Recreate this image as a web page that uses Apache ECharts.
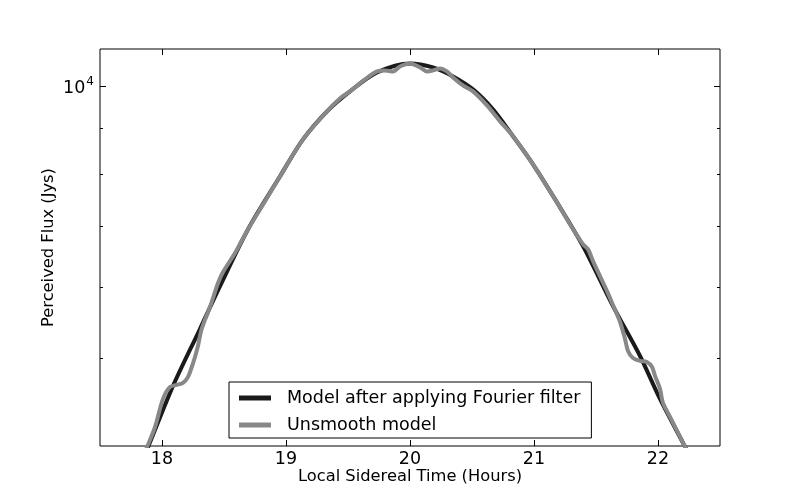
<!DOCTYPE html>
<html>
<head>
<meta charset="utf-8">
<script src="https://cdn.jsdelivr.net/npm/echarts@6/dist/echarts.min.js"></script>
<style>
  html, body { margin: 0; padding: 0; background: #fff; }
  #chart { width: 800px; height: 496px; }
</style>
</head>
<body>
<div id="chart"></div>
<script>
// ---- data ----
const smoothTimes = [17.847, 17.895, 18.089, 18.306, 18.468, 18.694, 18.952, 19.137, 19.331, 19.516, 19.734, 20.0, 20.185, 20.347, 20.508, 20.669, 20.831, 20.992, 21.185, 21.395, 21.637, 21.855, 22.016, 22.210, 22.258];
const smoothFlux  = [3871, 4012, 4662, 5389, 6012, 6950, 7954, 8737, 9385, 9874, 10363, 10603, 10496, 10257, 9924, 9432, 8807, 8200, 7443, 6657, 5713, 5031, 4510, 4012, 3891];

const rawTimes = [17.847, 17.887, 17.944, 18.008, 18.065, 18.119, 18.169, 18.210, 18.240, 18.266, 18.290, 18.320, 18.387, 18.452, 18.492, 18.589, 18.694, 18.831, 18.952, 19.137, 19.331, 19.435, 19.516, 19.637, 19.734, 19.798, 19.863, 19.919, 20.0, 20.081, 20.137, 20.185, 20.242, 20.298, 20.347, 20.427, 20.508, 20.621, 20.726, 20.831, 20.992, 21.185, 21.290, 21.395, 21.435, 21.476, 21.532, 21.589, 21.637, 21.694, 21.734, 21.758, 21.798, 21.855, 21.911, 21.952, 21.976, 22.016, 22.040, 22.097, 22.210, 22.258];
const rawFlux  = [3890, 4012, 4200, 4510, 4650, 4674, 4697, 4770, 4892, 5018, 5160, 5389, 5700, 6059, 6231, 6540, 6950, 7465, 7954, 8737, 9385, 9699, 9874, 10179, 10389, 10416, 10389, 10522, 10603, 10496, 10389, 10416, 10469, 10389, 10231, 10025, 9874, 9528, 9148, 8807, 8200, 7443, 7039, 6690, 6606, 6407, 6168, 5936, 5729, 5486, 5254, 5096, 5006, 4968, 4955, 4892, 4782, 4627, 4464, 4308, 4012, 3891];

const xTicks = [18, 19, 20, 21, 22];
const yMajorTicks = [10000];
const yMinorTicks = [5000, 6000, 7000, 8000, 9000];
const seriesNames = ['Model after applying Fourier filter', 'Unsmooth model'];
const xLabel = 'Local Sidereal Time (Hours)';
const yLabel = 'Perceived Flux (Jys)';

// ---- chart ----
const FONT = 'DejaVu Sans';
const chart = echarts.init(document.getElementById('chart'), null, { renderer: 'canvas' });

function pairs(xs, ys) { return xs.map((x, i) => [x, ys[i]]); }

function yAxisDef(pos, ticks, len, withLabel) {
  return {
    type: 'log', logBase: 10, min: 4000, max: 11000, position: pos,
    axisLine: { show: false },
    splitLine: { show: false },
    minorTick: { show: false },
    axisTick: { show: true, inside: true, length: len, customValues: ticks,
                lineStyle: { color: '#000', width: 1 } },
    axisLabel: withLabel ? {
      show: true, customValues: ticks, margin: 6,
      formatter: () => '{b|10}{s|4}',
      rich: {
        b: { fontFamily: FONT, fontSize: 17.5, color: '#000', padding: [4, 0, 0, 0] },
        s: { fontFamily: FONT, fontSize: 12, color: '#000', verticalAlign: 'bottom', padding: [0, 0, 10, 1] }
      }
    } : { show: false },
    name: withLabel ? yLabel : '',
    nameLocation: 'middle', nameRotate: 90, nameGap: 43, nameMoveOverlap: false,
    nameTextStyle: { fontFamily: FONT, fontSize: 16.3, color: '#000' }
  };
}

const option = {
  animation: false,
  backgroundColor: '#fff',
  grid: { left: 100, right: 80, top: 49, bottom: 50, show: true, borderColor: '#000', borderWidth: 1, backgroundColor: 'transparent' },
  legend: {
    orient: 'vertical', left: 229, top: 382,
    data: seriesNames,
    backgroundColor: '#fff', borderColor: '#000', borderWidth: 1, borderRadius: 0,
    padding: [7, 11, 4, 10], itemGap: 9,
    itemWidth: 32, itemHeight: 5, icon: 'rect',
    textStyle: { fontFamily: FONT, fontSize: 17.5, color: '#000', padding: [0, 0, 0, 11] }
  },
  xAxis: [
    {
      type: 'value', min: 17.5, max: 22.5, position: 'bottom',
      axisLine: { show: false }, splitLine: { show: false },
      axisTick: { show: true, inside: true, length: 6, customValues: xTicks, lineStyle: { color: '#000' } },
      axisLabel: { show: true, customValues: xTicks, margin: 4, fontFamily: FONT, fontSize: 17.5, color: '#000' },
      name: xLabel, nameLocation: 'middle', nameGap: 23, nameMoveOverlap: false,
      nameTextStyle: { fontFamily: FONT, fontSize: 16.3, color: '#000' }
    },
    {
      type: 'value', min: 17.5, max: 22.5, position: 'top',
      axisLine: { show: false }, splitLine: { show: false },
      axisTick: { show: true, inside: true, length: 6, customValues: xTicks, lineStyle: { color: '#000' } },
      axisLabel: { show: false }
    }
  ],
  yAxis: [
    yAxisDef('left', yMajorTicks, 6, true),
    yAxisDef('left', yMinorTicks, 3, false),
    yAxisDef('right', yMajorTicks, 6, false),
    yAxisDef('right', yMinorTicks, 3, false)
  ],
  series: [
    {
      name: seriesNames[0], type: 'line', data: pairs(smoothTimes, smoothFlux),
      smooth: 0.3, showSymbol: false, clip: true, z: 3,
      lineStyle: { color: '#1a1a1a', width: 4 }, itemStyle: { color: '#1a1a1a' }
    },
    {
      name: seriesNames[1], type: 'line', data: pairs(rawTimes, rawFlux),
      smooth: 0.3, showSymbol: false, clip: true, z: 4,
      lineStyle: { color: '#888888', width: 4 }, itemStyle: { color: '#888888' }
    }
  ]
};
chart.setOption(option);
</script>
</body>
</html>
